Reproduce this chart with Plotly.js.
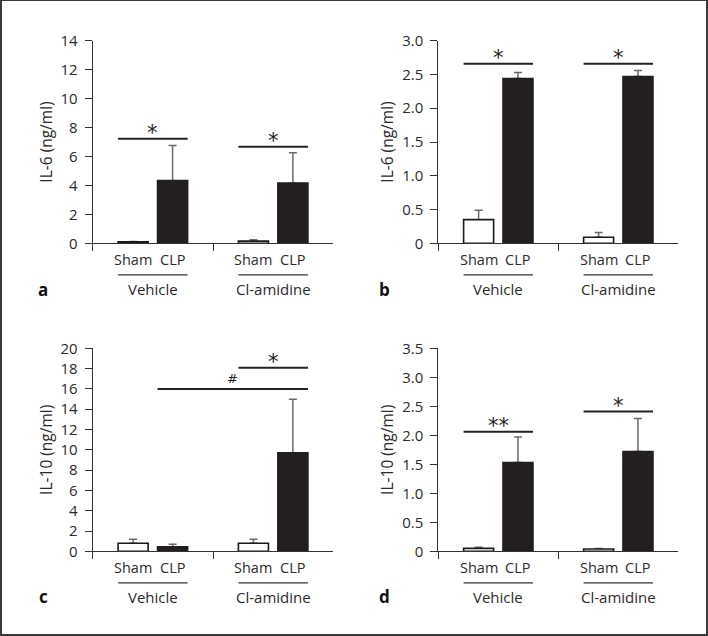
<!DOCTYPE html>
<html><head><meta charset="utf-8">
<script src="https://cdn.plot.ly/plotly-3.0.1.min.js"></script>
<style>
html,body{margin:0;padding:0;background:#fff}
#wrap{position:relative;width:708px;height:636px}
#chart{width:708px;height:636px}
#frame{position:absolute;left:0;top:0;width:708px;height:636px;box-sizing:border-box;border:2px solid #3a3a3a;border-top-width:1px;pointer-events:none}
</style>
</head><body><div id="wrap"><div id="chart"></div><div id="frame"></div></div>
<script>
// ---- data ----
const groups = ["Vehicle", "Cl-amidine"];
const treatments = ["Sham", "CLP"];

// panel a: IL-6 (ng/ml)
const a_sham = [0.10, 0.15];
const a_sham_err = [0.03, 0.10];
const a_clp = [4.33, 4.17];
const a_clp_err = [2.42, 2.09];
// panel b: IL-6 (ng/ml)
const b_sham = [0.35, 0.09];
const b_sham_err = [0.14, 0.07];
const b_clp = [2.44, 2.47];
const b_clp_err = [0.09, 0.09];
// panel c: IL-10 (ng/ml)
const c_sham = [0.79, 0.79];
const c_sham_err = [0.39, 0.39];
const c_clp = [0.45, 9.71];
const c_clp_err = [0.24, 5.26];
// panel d: IL-10 (ng/ml)
const d_sham = [0.05, 0.04];
const d_sham_err = [0.02, 0.01];
const d_clp = [1.53, 1.72];
const d_clp_err = [0.44, 0.57];

// significance brackets: bar indices (0 Veh-Sham, 1 Veh-CLP, 2 Cl-Sham, 3 Cl-CLP)
const a_sig = {label: ["*", "*"], y: [7.23, 6.68], from: [0, 2], to: [1, 3]};
const b_sig = {label: ["*", "*"], y: [2.66, 2.66], from: [0, 2], to: [1, 3]};
const c_sig = {label: ["#", "*"], y: [15.99, 18.09], from: [1, 2], to: [3, 3]};
const d_sig = {label: ["**", "*"], y: [2.06, 2.41], from: [0, 2], to: [1, 3]};

// y tick labels
const a_ticks = [0, 2, 4, 6, 8, 10, 12, 14];
const a_tickText = ["0", "2", "4", "6", "8", "10", "12", "14"];
const b_ticks = [0, 0.5, 1, 1.5, 2, 2.5, 3];
const b_tickText = ["0", "0.5", "1.0", "1.5", "2.0", "2.5", "3.0"];
const c_ticks = [0, 2, 4, 6, 8, 10, 12, 14, 16, 18, 20];
const c_tickText = ["0", "2", "4", "6", "8", "10", "12", "14", "16", "18", "20"];
const d_ticks = [0, 0.5, 1, 1.5, 2, 2.5, 3, 3.5];
const d_tickText = ["0", "0.5", "1.0", "1.5", "2.0", "2.5", "3.0", "3.5"];

// ---- layout ----
const W = 708, H = 636;
const FONT = "Open Sans, Noto Sans, sans-serif";
const TXT = "#2b2b2b";
const BAR = "#231f20";
const BARGAP = 0.344, GROUPGAP = 0.238;
const OFF = (1 - BARGAP) / 4;                 // half-distance between bar centres
const HALFW = (1 - BARGAP) / 2 * (1 - GROUPGAP) / 2;
function barCenter(k){ return Math.floor(k/2) + (k % 2 === 0 ? -OFF : OFF); }

const xdomL = [92.7/W, 333.3/W], xdomR = [438.3/W, 678.3/W];
const ydomT = [1 - 243.3/H, 1 - 40.7/H], ydomB = [1 - 551.3/H, 1 - 348.3/H];

const panels = [
  {ax: "", xd: xdomL, yd: ydomT, range: [0, 14], ticks: a_ticks, tt: a_tickText, title: "IL-6 (ng/ml)", letter: "a",
   sham: a_sham, shamE: a_sham_err, clp: a_clp, clpE: a_clp_err, sig: a_sig},
  {ax: "2", xd: xdomR, yd: ydomT, range: [0, 3], ticks: b_ticks, tt: b_tickText, title: "IL-6 (ng/ml)", letter: "b",
   sham: b_sham, shamE: b_sham_err, clp: b_clp, clpE: b_clp_err, sig: b_sig},
  {ax: "3", xd: xdomL, yd: ydomB, range: [0, 20], ticks: c_ticks, tt: c_tickText, title: "IL-10 (ng/ml)", letter: "c",
   sham: c_sham, shamE: c_sham_err, clp: c_clp, clpE: c_clp_err, sig: c_sig},
  {ax: "4", xd: xdomR, yd: ydomB, range: [0, 3.5], ticks: d_ticks, tt: d_tickText, title: "IL-10 (ng/ml)", letter: "d",
   sham: d_sham, shamE: d_sham_err, clp: d_clp, clpE: d_clp_err, sig: d_sig}
];

const traces = [];
const layout = {
  width: W, height: H, margin: {l: 0, r: 0, t: 0, b: 0},
  paper_bgcolor: "#fff", plot_bgcolor: "#fff",
  showlegend: false, barmode: "group", bargap: BARGAP, bargroupgap: GROUPGAP,
  font: {family: FONT, size: 14, color: TXT},
  shapes: [], annotations: []
};

panels.forEach(p => {
  const xa = "x" + p.ax, ya = "y" + p.ax;
  const zeros = p.sham.map(() => 0);
  const errStyle = {color: "#6a6a6a", thickness: 1.5, width: 4};
  const ghost = {color: "rgba(0,0,0,0)", line: {width: 0}};
  // error bars drawn first (one-sided, upward), visible bars are drawn on top of them
  traces.push({type: "bar", name: treatments[0] + " SEM", x: groups, y: p.sham, xaxis: xa, yaxis: ya,
    offsetgroup: "sham", marker: ghost,
    error_y: Object.assign({type: "data", symmetric: false, array: p.shamE, arrayminus: zeros}, errStyle)});
  traces.push({type: "bar", name: treatments[1] + " SEM", x: groups, y: p.clp, xaxis: xa, yaxis: ya,
    offsetgroup: "clp", marker: ghost,
    error_y: Object.assign({type: "data", symmetric: false, array: p.clpE, arrayminus: zeros}, errStyle)});
  traces.push({type: "bar", name: treatments[0], x: groups, y: p.sham, xaxis: xa, yaxis: ya,
    offsetgroup: "sham", marker: {color: "#ffffff", line: {color: "#1a1a1a", width: 1.6}}});
  traces.push({type: "bar", name: treatments[1], x: groups, y: p.clp, xaxis: xa, yaxis: ya,
    offsetgroup: "clp", marker: {color: BAR, line: {color: BAR, width: 1.6}}});

  layout["xaxis" + p.ax] = {
    domain: p.xd, anchor: ya, type: "category", categoryorder: "array", categoryarray: groups,
    range: [-0.5, 1.5], tickson: "boundaries", ticks: "outside", ticklen: 7, tickwidth: 1, tickcolor: "#333",
    showticklabels: false, showline: true, linecolor: "#333", linewidth: 1, showgrid: false, zeroline: false, fixedrange: true
  };
  layout["yaxis" + p.ax] = {
    domain: p.yd, anchor: xa, range: p.range, tickmode: "array", tickvals: p.ticks, ticktext: p.tt,
    ticks: "outside", ticklen: 7, tickwidth: 1, tickcolor: "#333", ticklabelstandoff: 4,
    showline: true, linecolor: "#333", linewidth: 1, showgrid: false, zeroline: false, fixedrange: true,
    tickfont: {family: FONT, size: 15, color: TXT},
    title: {text: p.title, font: {family: FONT, size: 15.5, color: TXT}, standoff: 4}
  };

  // category labels under bars
  for (let k = 0; k < 4; k++) {
    layout.annotations.push({xref: xa, yref: ya + " domain", x: barCenter(k), y: 0, yanchor: "middle",
      yshift: -16, text: treatments[k % 2], showarrow: false, font: {family: FONT, size: 14.5, color: TXT}});
  }
  // group underline + group name
  groups.forEach((g, gi) => {
    const x0 = (gi - OFF - HALFW + 0.5) / 2, x1 = (gi + OFF + HALFW + 0.5) / 2;
    layout.shapes.push({type: "line", xref: xa + " domain", yref: ya + " domain", ysizemode: "pixel",
      yanchor: 0, x0: x0, x1: x1, y0: -31.5, y1: -31.5, line: {color: "#333", width: 1.3}});
    layout.annotations.push({xref: xa, yref: ya + " domain", x: gi, y: 0, yanchor: "middle",
      yshift: -46, text: g, showarrow: false, font: {family: FONT, size: 15, color: TXT}});
  });
  // significance brackets
  p.sig.label.forEach((lab, i) => {
    const x0 = barCenter(p.sig.from[i]) - HALFW, x1 = barCenter(p.sig.to[i]) + HALFW;
    layout.shapes.push({type: "line", xref: xa, yref: ya, x0: x0, x1: x1, y0: p.sig.y[i], y1: p.sig.y[i],
      line: {color: "#222", width: 2}});
    const isHash = lab === "#";
    layout.annotations.push({xref: xa, yref: ya, x: (x0 + x1) / 2, y: p.sig.y[i], yanchor: "bottom",
      yshift: isHash ? 1 : -8, text: lab, showarrow: false,
      font: {family: "DejaVu Sans, sans-serif", size: isHash ? 13 : 21, color: "#222"}});
  });
  // panel letter
  const lx = (p.ax === "" || p.ax === "3") ? 43 : 385;
  const ly = (p.ax === "" || p.ax === "2") ? 289.3 : 596.7;
  layout.annotations.push({xref: "paper", yref: "paper", x: lx / W, y: 1 - ly / H, xanchor: "center", yanchor: "middle",
    text: "<b>" + p.letter + "</b>", showarrow: false, font: {family: FONT, size: 17, color: "#111"}});
});

Plotly.newPlot("chart", traces, layout, {staticPlot: true, displayModeBar: false});
</script>
</body></html>
